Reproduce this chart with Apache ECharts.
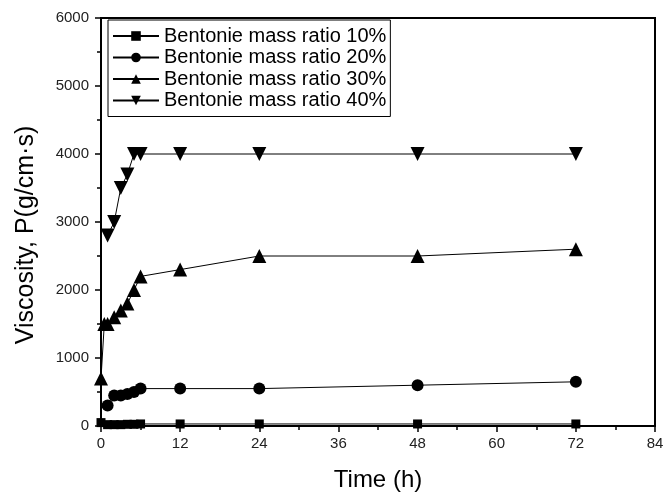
<!DOCTYPE html>
<html>
<head>
<meta charset="utf-8">
<script src="https://cdn.jsdelivr.net/npm/echarts@6/dist/echarts.min.js"></script>
<style>
html,body{margin:0;padding:0;background:#fff;}
#chart{width:669px;height:502px;}
</style>
</head>
<body>
<div id="chart"></div>
<script>
// Data
var seriesNames = ['Bentonie mass ratio 10%', 'Bentonie mass ratio 20%', 'Bentonie mass ratio 30%', 'Bentonie mass ratio 40%'];

var time10 = [0, 1, 2, 3, 4, 5, 6, 12, 24, 48, 72];
var visc10 = [50, 20, 20, 20, 25, 25, 30, 30, 30, 30, 30];

var time20 = [1, 2, 3, 4, 5, 6, 12, 24, 48, 72];
var visc20 = [300, 450, 450, 470, 500, 550, 550, 550, 600, 650];

var time30 = [0, 0.5, 1, 2, 3, 4, 5, 6, 12, 24, 48, 72];
var visc30 = [700, 1500, 1500, 1600, 1700, 1800, 2000, 2200, 2300, 2500, 2500, 2600];

var time40 = [1, 2, 3, 4, 5, 6, 12, 24, 48, 72];
var visc40 = [2800, 3000, 3500, 3700, 4000, 4000, 4000, 4000, 4000, 4000];

var xTicks = [0, 12, 24, 36, 48, 60, 72, 84];
var yTicks = [0, 1000, 2000, 3000, 4000, 5000, 6000];

function pairs(xs, ys) { return xs.map(function (x, i) { return [x, ys[i]]; }); }

var symbols = [
  { symbol: 'rect', size: 9, rotate: 0 },
  { symbol: 'circle', size: 12, rotate: 0 },
  { symbol: 'triangle', size: 14, rotate: 0 },
  { symbol: 'triangle', size: 14, rotate: 180 }
];
var datasets = [pairs(time10, visc10), pairs(time20, visc20), pairs(time30, visc30), pairs(time40, visc40)];

var chart = echarts.init(document.getElementById('chart'), null, { renderer: 'canvas' });
var font = 'Liberation Sans, Arial, sans-serif';

chart.setOption({
  backgroundColor: '#fff',
  animation: false,
  grid: { left: 101, right: 14, top: 18, bottom: 76, show: true, borderColor: '#000', borderWidth: 2, backgroundColor: 'transparent' },
  legend: {
    orient: 'vertical',
    left: 108, top: 20,
    padding: [6, 4, 6, 4],
    itemGap: 1.5,
    itemWidth: 46, itemHeight: 12,
    borderColor: '#000', borderWidth: 1,
    textStyle: { fontFamily: font, fontSize: 20, lineHeight: 20, color: '#000' },
    data: seriesNames
  },
  xAxis: {
    type: 'value', min: xTicks[0], max: xTicks[xTicks.length - 1], interval: 12,
    name: 'Time (h)', nameLocation: 'middle', nameGap: 42,
    nameTextStyle: { fontFamily: font, fontSize: 24, color: '#000' },
    axisLine: { show: true, lineStyle: { color: '#000', width: 2 } },
    axisTick: { show: true, inside: false, length: 6, lineStyle: { color: '#000', width: 1.5 } },
    minorTick: { show: true, splitNumber: 2, length: 4, lineStyle: { color: '#000', width: 1.5 } },
    axisLabel: { fontFamily: font, fontSize: 15, color: '#222', margin: 10 },
    splitLine: { show: false }
  },
  yAxis: {
    type: 'value', min: yTicks[0], max: yTicks[yTicks.length - 1], interval: 1000,
    name: 'Viscosity, P(g/cm\u00b7s)', nameLocation: 'middle', nameGap: 62, nameRotate: 90,
    nameTextStyle: { fontFamily: font, fontSize: 25, color: '#000', padding: [0, 26, 0, 0] },
    axisLine: { show: true, lineStyle: { color: '#000', width: 2 } },
    axisTick: { show: true, inside: false, length: 6, lineStyle: { color: '#000', width: 1.5 } },
    minorTick: { show: true, splitNumber: 2, length: 4, lineStyle: { color: '#000', width: 1.5 } },
    axisLabel: { fontFamily: font, fontSize: 15, color: '#222', margin: 12, formatter: function (v) { return String(v); } },
    splitLine: { show: false }
  },
  series: seriesNames.map(function (name, i) {
    return {
      name: name,
      type: 'line',
      data: datasets[i],
      symbol: symbols[i].symbol,
      symbolSize: symbols[i].size,
      symbolRotate: symbols[i].rotate,
      showAllSymbol: true,
      clip: false,
      lineStyle: { color: '#000', width: 1 },
      itemStyle: { color: '#000', borderColor: '#000', borderWidth: 0 },
      z: 3 + i
    };
  })
});
</script>
</body>
</html>
